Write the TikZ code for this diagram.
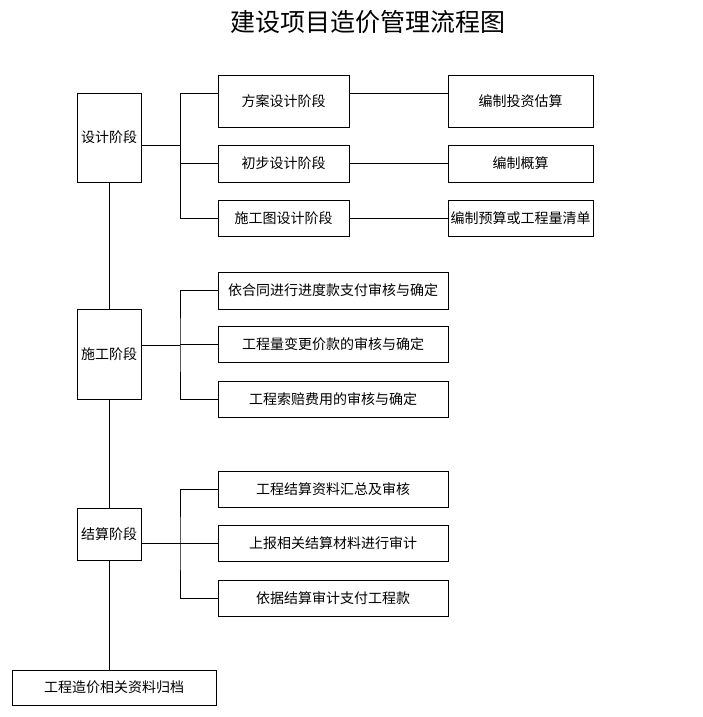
\documentclass[tikz,border=0pt]{standalone}
\usepackage{fontspec}
\newfontfamily\cjk{Noto Sans CJK SC}
\begin{document}
\begin{tikzpicture}[x=1pt,y=-1pt,font=\cjk\fontsize{14}{16}\selectfont,
  box/.style={draw,inner sep=0pt,line width=0.6pt},
  link/.style={line width=0.6pt}]
\useasboundingbox (0,0) rectangle (703,717);
\node[font=\cjk\fontsize{25}{28}\selectfont] (title) at (368,22) {建设项目造价管理流程图};
% stages
\node[box,minimum width=64,minimum height=89] (sj) at (109,137.5) {设计阶段};
\node[box,minimum width=64,minimum height=90] (sg) at (109,354) {施工阶段};
\node[box,minimum width=64,minimum height=52] (js) at (109,534) {结算阶段};
\node[box,minimum width=204,minimum height=35] (gd) at (114,687.5) {工程造价相关资料归档};
\draw[link] (sj) -- (sg);
\draw[link] (sg) -- (js);
\draw[link] (js) -- (js |- gd.north);
% design stage
\node[box,minimum width=131,minimum height=52] (fa) at (283.5,101) {方案设计阶段};
\node[box,minimum width=131,minimum height=37] (cb) at (283.5,163.5) {初步设计阶段};
\node[box,minimum width=131,minimum height=36] (sgt) at (283.5,218) {施工图设计阶段};
\node[box,minimum width=145,minimum height=52] (gs) at (520.5,101) {编制投资估算};
\node[box,minimum width=145,minimum height=37] (gn) at (520.5,163.5) {编制概算};
\node[box,minimum width=145,minimum height=36] (ys) at (520.5,218) {编制预算或工程量清单};
\coordinate (j1) at (180,145);
\coordinate (t1) at (180,93);
\draw[link] (sj.east |- j1) -- (j1);
\draw[link] (fa.west |- t1) -- (t1) |- (sgt.west);
\draw[link] (cb.west) -- (cb.west -| t1);
\draw[link] (fa.east |- t1) -- (gs.west |- t1);
\draw[link] (cb) -- (gn);
\draw[link] (sgt) -- (ys);
% construction stage
\node[box,minimum width=230,minimum height=37] (jd) at (333,290.5) {依合同进行进度款支付审核与确定};
\node[box,minimum width=230,minimum height=36] (bg) at (333,344) {工程量变更价款的审核与确定};
\node[box,minimum width=230,minimum height=36] (sp) at (333,399) {工程索赔费用的审核与确定};
\coordinate (j2) at (180,345);
\draw[link] (sg.east |- j2) -- (j2);
\draw[link] (jd.west) -| (j2) |- (sp.west);
\draw[link] (bg.west) -- (bg.west -| j2);
% settlement stage
\node[box,minimum width=230,minimum height=36] (hz) at (333,489) {工程结算资料汇总及审核};
\node[box,minimum width=230,minimum height=36] (sb) at (333,543) {上报相关结算材料进行审计};
\node[box,minimum width=230,minimum height=36] (zf) at (333,598) {依据结算审计支付工程款};
\coordinate (j3) at (180,543);
\draw[link] (js.east |- j3) -- (j3);
\draw[link] (hz.west) -| (j3) |- (zf.west);
\draw[link] (sb.west) -- (sb.west -| j3);
\end{tikzpicture}
\end{document}
